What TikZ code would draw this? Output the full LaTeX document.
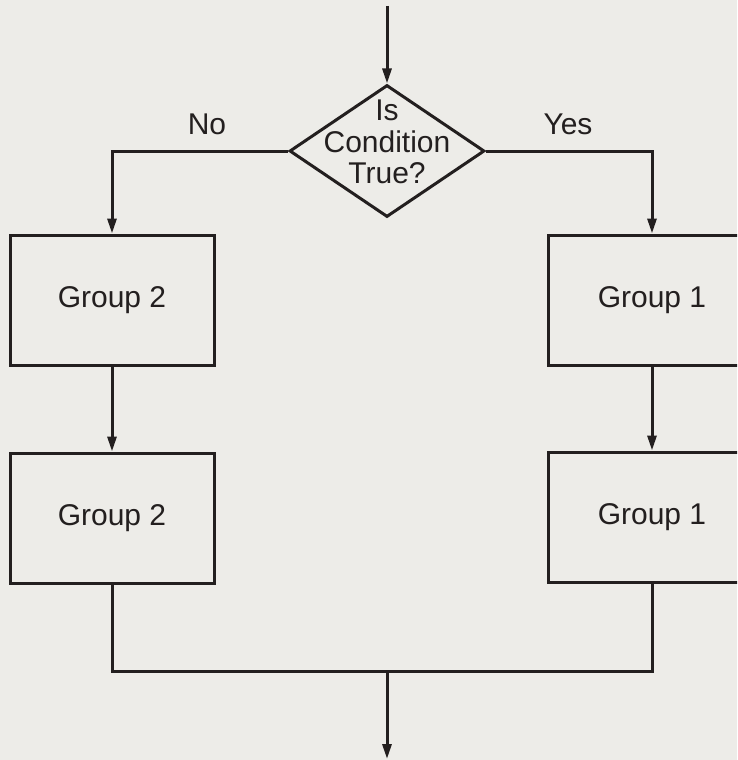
\documentclass[tikz,border=0pt]{standalone}
\usepackage{fontspec}
\setmainfont{Liberation Sans}
\usetikzlibrary{arrows.meta,shapes.geometric}
\definecolor{paper}{HTML}{EDECE8}
\definecolor{ink}{HTML}{231F1F}
\begin{document}
\begin{tikzpicture}[x=1pt,y=-1pt,
  every node/.style={text=ink,font=\fontsize{30}{31.5}\selectfont},
  line/.style={draw=ink,line width=3pt},
  arr/.style={line,-{Triangle[length=15pt,width=9pt]}},
  groupbox/.style={draw=ink,line width=3pt,rectangle,minimum width=204pt,minimum height=130pt,inner sep=0pt},
  decision/.style={draw=ink,line width=3pt,diamond,minimum width=195pt,minimum height=132pt,inner sep=0pt}]
  % page and background
  \useasboundingbox (0,0) rectangle (737,760);
  \fill[paper] (0,0) rectangle (737,760);
  \begin{scope}
  \clip (0,0) rectangle (737,760);

  % decision
  \node[decision] (cond) at (387,151) {};
  \node[align=center] (condtext) at (387,142) {Is\\Condition\\True?};

  % process boxes
  \node[groupbox] (g2a) at (112,300) {Group 2};
  \node[groupbox] (g2b) at (112,518) {Group 2};
  \node[groupbox,minimum width=207pt] (g1a) at (652,300) {Group 1};
  \node[groupbox,minimum width=207pt] (g1b) at (652,517) {Group 1};

  % branch labels
  \node (no)  at (207,124) {No};
  \node (yes) at (568,124) {Yes};

  % entry, exit and join points
  \coordinate (entry) at (387,6);
  \coordinate (join)  at (387,671);
  \coordinate (exit)  at (387,759);

  % connectors
  \draw[arr] (entry) -- (cond.north);
  \draw[arr] (cond.west) -| (g2a.north);
  \draw[arr] (cond.east) -| (g1a.north);
  \draw[arr] (g2a.south) -- (g2b.north);
  \draw[arr] (g1a.south) -- (g1b.north);
  \draw[line] (g2b.south) |- (join) -| (g1b.south);
  \draw[arr] (join) -- (exit);
  \end{scope}
\end{tikzpicture}
\end{document}
